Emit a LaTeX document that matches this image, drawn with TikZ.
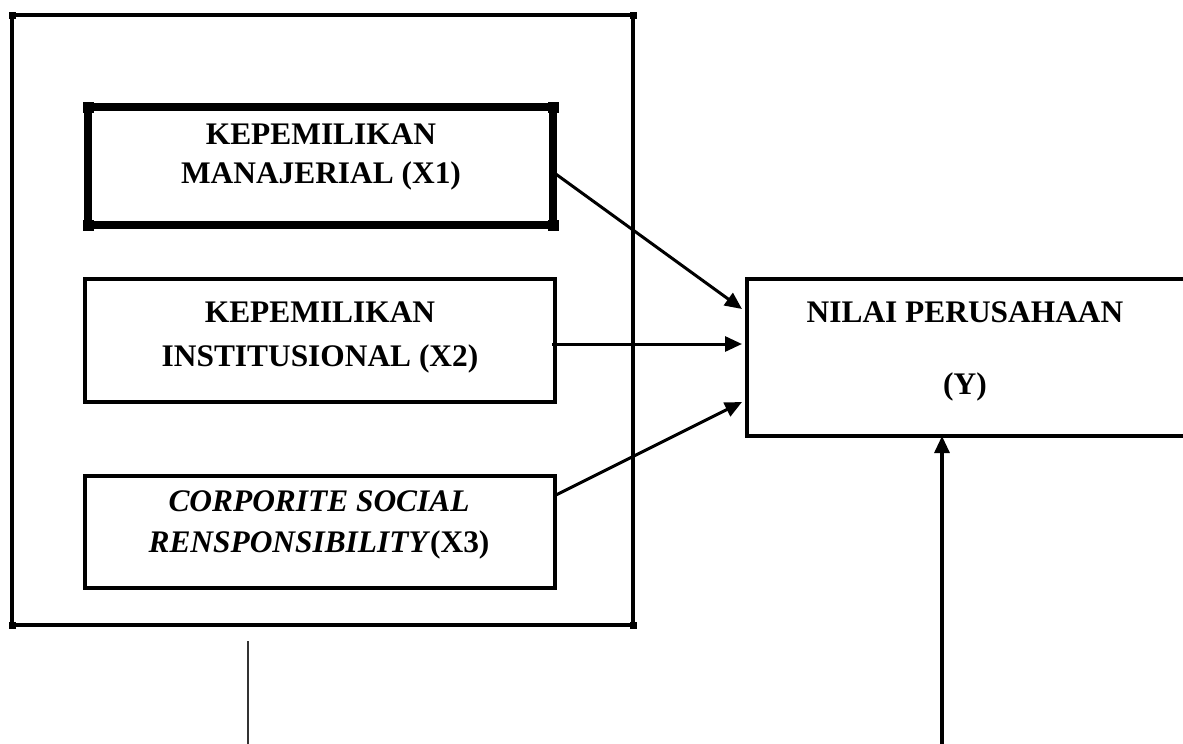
\documentclass[tikz,border=0pt]{standalone}
\usepackage{fontspec}
\setmainfont{Liberation Serif}
\usetikzlibrary{arrows.meta,calc}
\begin{document}
\begin{tikzpicture}[x=0.5pt,y=-0.5pt,
  boxA/.style={draw=none,rectangle,inner sep=0pt,outer sep=0pt},
  boxB/.style={draw,rectangle,line width=1.6pt,inner sep=0pt,outer sep=0pt},
  txt/.style={align=center,inner sep=0pt,font=\bfseries\fontsize{15.7}{20.5}\selectfont},
  conn/.style={line width=1.5pt,-{Triangle[length=8.5pt,width=7.5pt]}},
  nub/.style={fill=black}
]
\useasboundingbox (0,0) rectangle (1183,744);
\clip (0,0) rectangle (1183,744);

% outer group box
\node[boxA,minimum width=310.5pt,minimum height=305pt] (grp) at (322.5,320) {};
\draw[line width=2.3pt] (grp.north west) -- (grp.north east) -- (grp.south east) -- (grp.south west) -- cycle;
\foreach \c in {north west,north east,south east,south west}
  \fill[nub] ($(grp.\c)+(-3.5,-3.5)$) rectangle ($(grp.\c)+(3.5,3.5)$);

% X1 thick box
\node[boxA,minimum width=232.5pt,minimum height=59pt] (x1) at (320.5,166) {};
\draw[line width=3.6pt] (x1.north west) -- (x1.north east) -- (x1.south east) -- (x1.south west) -- cycle;
\foreach \c in {north west,north east,south east,south west}
  \fill[nub] ($(x1.\c)+(-5.5,-5.5)$) rectangle ($(x1.\c)+(5.5,5.5)$);
\node[txt,font=\bfseries\fontsize{15.7}{19.5}\selectfont] (x1t) at (321,157) {KEPEMILIKAN\\MANAJERIAL (X1)};

% X2 box
\node[boxB,minimum width=235pt,minimum height=61.5pt] (x2) at (320,340.5) {};
\node[txt,font=\bfseries\fontsize{15.7}{22}\selectfont] (x2t) at (320,337) {KEPEMILIKAN\\INSTITUSIONAL (X2)};

% X3 box
\node[boxB,minimum width=235pt,minimum height=56pt] (x3) at (320,532) {};
\node[txt] (x3t) at (319,524.5) {\textit{CORPORITE SOCIAL}\\\textit{RENSPONSIBILITY}(X3)};

% Y box
\node[draw,rectangle,line width=1.9pt,inner sep=0pt,outer sep=0pt,minimum width=220pt,minimum height=78.5pt] (y) at (967,357.5) {};
\node[txt,font=\bfseries\fontsize{15.7}{36}\selectfont] (yt) at (965,351) {NILAI PERUSAHAAN\\(Y)};

% connectors
\draw[conn] ($(x1.east)+(0,6)$) -- ($(y.west)+(-5,-48.5)$);
\draw[conn] ($(x2.east)+(-3,3.5)$) -- ($(y.west)+(-5,-13.5)$);
\draw[conn] ($(x3.east)+(1,-37)$) -- ($(y.west)+(-5,44.5)$);

\coordinate (vb) at (942,744);
\draw[conn,line width=1.6pt] (vb) -- (vb |- y.south);

\coordinate (la) at (248,641);
\coordinate (lb) at (248,744);
\draw[line width=1pt,black!80] (la) -- (lb);
\end{tikzpicture}
\end{document}
